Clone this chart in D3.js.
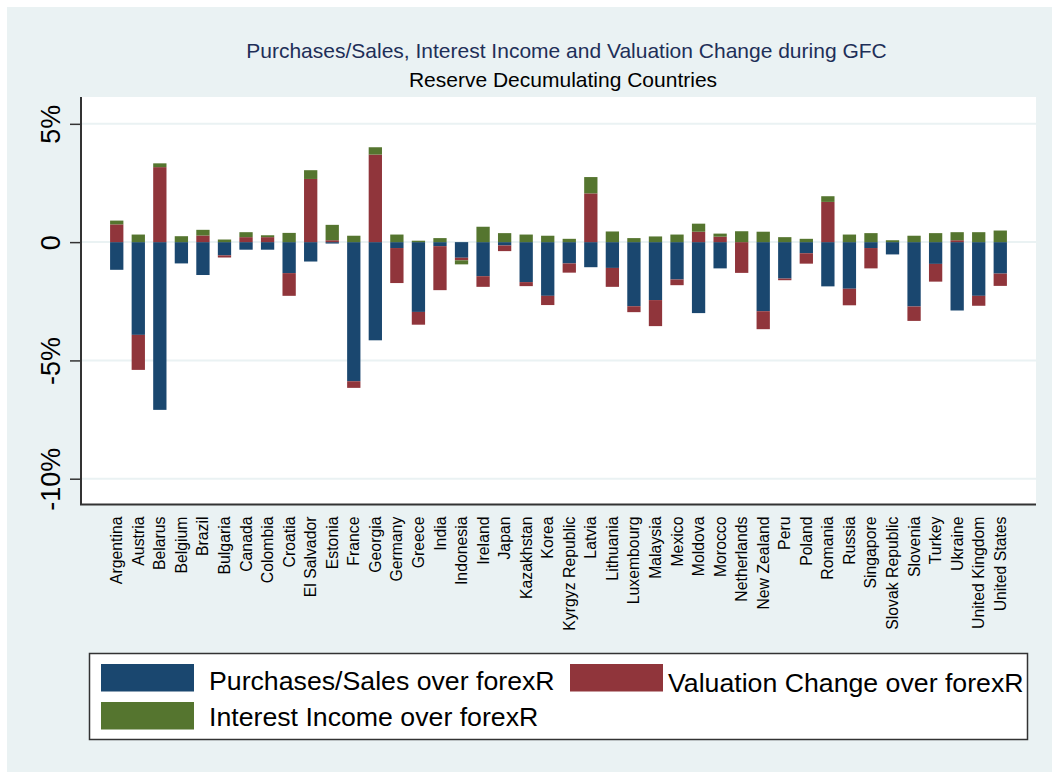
<!DOCTYPE html>
<html>
<head>
<meta charset="utf-8">
<script src="https://cdn.jsdelivr.net/npm/d3@7"></script>
<style>
  html, body { margin: 0; padding: 0; background: #ffffff; }
  svg { display: block; font-family: Arial, "Liberation Sans", sans-serif; }
</style>
</head>
<body>
<svg id="chart" width="1052" height="772"></svg>
<script>
const countries = ["Argentina","Austria","Belarus","Belgium","Brazil","Bulgaria","Canada","Colombia","Croatia","El Salvador","Estonia","France","Georgia","Germany","Greece","India","Indonesia","Ireland","Japan","Kazakhstan","Korea","Kyrgyz Republic","Latvia","Lithuania","Luxembourg","Malaysia","Mexico","Moldova","Morocco","Netherlands","New Zealand","Peru","Poland","Romania","Russia","Singapore","Slovak Republic","Slovenia","Turkey","Ukraine","United Kingdom","United States"];

const purchasesSales = [-1.17,-3.92,-7.09,-0.90,-1.39,-0.56,-0.32,-0.32,-1.31,-0.82,-0.06,-5.88,-4.15,-0.25,-2.95,-0.17,-0.66,-1.44,-0.14,-1.69,-2.27,-0.90,-1.06,-1.09,-2.71,-2.45,-1.58,-3.00,-1.11,0.00,-2.92,-1.54,-0.47,-1.87,-1.97,-0.25,-0.52,-2.72,-0.92,-2.89,-2.27,-1.33];
const valuationChange = [0.75,-1.48,3.17,0.00,0.28,-0.09,0.21,0.21,-0.96,2.67,0.08,-0.28,3.70,-1.48,-0.54,-1.86,-0.11,-0.45,-0.24,-0.17,-0.39,-0.39,2.06,-0.80,-0.25,-1.10,-0.24,0.44,0.23,-1.30,-0.76,-0.07,-0.44,1.70,-0.70,-0.86,0.00,-0.61,-0.75,0.08,-0.42,-0.52];
const interestIncome = [0.16,0.32,0.16,0.25,0.24,0.11,0.21,0.08,0.39,0.37,0.65,0.27,0.31,0.32,0.06,0.17,-0.17,0.65,0.38,0.32,0.27,0.14,0.69,0.45,0.17,0.24,0.32,0.34,0.13,0.46,0.44,0.21,0.14,0.24,0.32,0.38,0.08,0.27,0.38,0.34,0.42,0.49];

const seriesNames = ["Purchases/Sales over forexR","Valuation Change over forexR","Interest Income over forexR"];
const yTickValues = [5, 0, -5, -10];
const yTickLabels = ["5%", "0", "-5%", "-10%"];

const colors = ["#1a476f", "#90353b", "#55752f"];
const keys = ["ps", "val", "int"];

const svg = d3.select("#chart");
const W = 1052, H = 772;

// background
svg.append("rect").attr("x", 0).attr("y", 0).attr("width", W).attr("height", H).attr("fill", "#ffffff");
svg.append("rect").attr("x", 7).attr("y", 7).attr("width", W - 7).attr("height", H - 7).attr("fill", "#eaf2f3");

const plot = { left: 81, right: 1036, top: 97, bottom: 504.5 };
svg.append("rect").attr("x", plot.left).attr("y", plot.top)
  .attr("width", plot.right - plot.left).attr("height", plot.bottom - plot.top).attr("fill", "#ffffff");

const x = d3.scaleBand().domain(countries).range([plot.left, plot.right])
  .paddingInner(0.383).paddingOuter(1.35);
const y = d3.scaleLinear().domain([-11.09, 6.134]).range([plot.bottom, plot.top]);

// grid lines
svg.append("g").selectAll("line").data(yTickValues).join("line")
  .attr("x1", plot.left).attr("x2", plot.right)
  .attr("y1", d => y(d)).attr("y2", d => y(d))
  .attr("stroke", "#eaf2f3").attr("stroke-width", 2);

// data table
const table = countries.map((c, i) => ({ country: c, ps: purchasesSales[i], val: valuationChange[i], int: interestIncome[i] }));
const stack = d3.stack().keys(keys).offset(d3.stackOffsetDiverging);
const stacked = stack(table);

svg.append("g").selectAll("g").data(stacked).join("g")
  .attr("fill", (d, i) => colors[i])
  .selectAll("rect").data(d => d).join("rect")
  .attr("x", d => x(d.data.country))
  .attr("width", x.bandwidth())
  .attr("y", d => y(Math.max(d[0], d[1])))
  .attr("height", d => Math.abs(y(d[0]) - y(d[1])));

// axes
const yAxis = d3.axisLeft(y).tickValues(yTickValues).tickFormat((d, i) => yTickLabels[i]).tickSize(11).tickPadding(0);
const gy = svg.append("g").attr("transform", `translate(${plot.left},0)`).call(yAxis);
gy.select(".domain").attr("d", `M0,${plot.top}V${plot.bottom}`).attr("stroke", "#333").attr("stroke-width", 2);
gy.selectAll(".tick line").attr("stroke", "#333").attr("stroke-width", 1.5);
gy.selectAll(".tick text").remove();
gy.selectAll(".tick").append("text")
  .attr("transform", "translate(-21,0) rotate(-90)")
  .attr("text-anchor", "middle")
  .attr("dy", 0)
  .attr("fill", "#000")
  .attr("font-size", "27px")
  .attr("font-family", "Arial, 'Liberation Sans', sans-serif")
  .text((d, i) => yTickLabels[i]);

const xAxis = d3.axisBottom(x).tickSize(0).tickPadding(0);
const gx = svg.append("g").attr("transform", `translate(0,${plot.bottom})`).call(xAxis);
gx.select(".domain").attr("d", `M${plot.left - 1},0H${plot.right}`).attr("stroke", "#333").attr("stroke-width", 2);
gx.selectAll(".tick text")
  .attr("transform", "translate(0,12) rotate(-90)")
  .attr("text-anchor", "end")
  .attr("dy", "0.35em")
  .attr("y", 0)
  .attr("x", 0)
  .attr("fill", "#000")
  .attr("font-size", "15.8px")
  .attr("font-family", "Arial, 'Liberation Sans', sans-serif");

// titles
svg.append("text").attr("x", 566.5).attr("y", 58).attr("text-anchor", "middle")
  .attr("font-size", "21px").attr("fill", "#1e2f58")
  .text("Purchases/Sales, Interest Income and Valuation Change during GFC");
svg.append("text").attr("x", 563).attr("y", 87).attr("text-anchor", "middle")
  .attr("font-size", "21px").attr("fill", "#000")
  .text("Reserve Decumulating Countries");

// legend
const lg = svg.append("g");
lg.append("rect").attr("x", 89.5).attr("y", 653.5).attr("width", 938).attr("height", 86)
  .attr("fill", "#ffffff").attr("stroke", "#333").attr("stroke-width", 1.5);
const legendItems = [
  { name: seriesNames[0], color: colors[0], sx: 101, sy: 664, tx: 209, ty: 689.5 },
  { name: seriesNames[1], color: colors[1], sx: 570, sy: 664, tx: 668, ty: 692 },
  { name: seriesNames[2], color: colors[2], sx: 101, sy: 702, tx: 209, ty: 725.5 }
];
legendItems.forEach(it => {
  lg.append("rect").attr("x", it.sx).attr("y", it.sy).attr("width", 93).attr("height", 27.5).attr("fill", it.color);
  lg.append("text").attr("x", it.tx).attr("y", it.ty).attr("font-size", "26.7px").attr("fill", "#000").text(it.name);
});
</script>
</body>
</html>
